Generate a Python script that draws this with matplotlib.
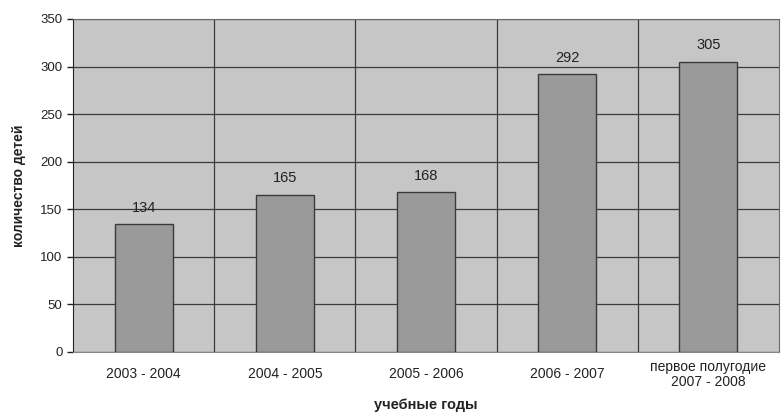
import matplotlib.pyplot as plt
import numpy as np

years = ['2003 - 2004', '2004 - 2005', '2005 - 2006', '2006 - 2007', 'первое полугодие\n2007 - 2008']
children = [134, 165, 168, 292, 305]

plt.rcParams['font.family'] = ['Liberation Sans', 'DejaVu Sans']

fig = plt.figure(figsize=(7.81, 4.16), dpi=100)
ax = fig.add_axes([0.0935, 0.154, 0.904, 0.8005])
ax.set_facecolor('#c6c6c6')

x = np.arange(len(years))
bars = ax.bar(x, children, width=0.41, color='#9a9a9a', edgecolor='#3a3a3a', linewidth=1.0, zorder=3)

for b, v in zip(bars, children):
    ax.text(b.get_x() + b.get_width() / 2, v + 10, str(v), ha='center', va='bottom',
            fontsize=10.5, color='#222222', zorder=4)

ax.set_xlim(-0.5, len(years) - 0.5)
ax.set_ylim(0, 350)
ax.set_yticks(range(0, 351, 50))
ax.set_xticks(x)
ax.set_xticklabels(years, fontsize=10, color='#222222', va='center', linespacing=1.1)
ax.tick_params(axis='x', length=0, pad=16)
ax.tick_params(axis='y', length=4, width=1, labelsize=9.5, colors='#222222', direction='out')

# сетка
ax.yaxis.grid(True, color='#3c3c3c', linewidth=0.9, zorder=1)
ax.set_xticks(np.arange(0.5, len(years) - 0.5, 1), minor=True)
ax.xaxis.grid(True, which='minor', color='#3c3c3c', linewidth=0.9, zorder=1)
ax.tick_params(axis='x', which='minor', length=0)

for s in ['top', 'right']:
    ax.spines[s].set_color('#6a6a6a')
ax.spines['left'].set_color('#222222')
ax.spines['bottom'].set_color('#888888')

ax.set_ylabel('количество детей', fontsize=10, fontweight='bold', color='#222222', labelpad=10)
ax.set_xlabel('учебные годы', fontsize=10.5, fontweight='bold', color='#222222', va='center')
ax.xaxis.set_label_coords(0.5, -0.16)

plt.savefig('out.png', dpi=100)
